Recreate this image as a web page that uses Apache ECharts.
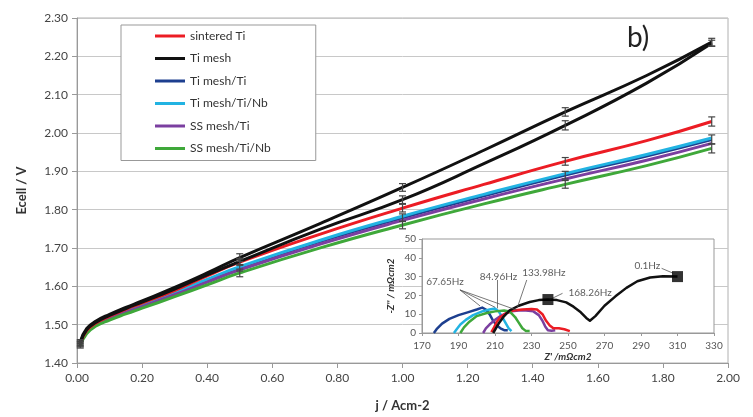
<!DOCTYPE html>
<html>
<head>
<meta charset="utf-8">
<script src="https://cdn.jsdelivr.net/npm/echarts@6/dist/echarts.min.js"></script>
<style>
  html, body { margin: 0; padding: 0; background: #fff; }
  #main { width: 753px; height: 417px; }
</style>
</head>
<body>
<div id="main"></div>
<script>
// current density points (A cm-2)
var jVals = [0.01, 0.03, 0.06, 0.1, 0.15, 0.2, 0.3, 0.4, 0.5, 0.75, 1.0, 1.25, 1.5, 1.75, 1.95];

var sinteredTi = [1.450, 1.485, 1.505, 1.522, 1.540, 1.556, 1.589, 1.627, 1.663, 1.737, 1.804, 1.866, 1.926, 1.980, 2.030];
var tiMesh     = [1.455, 1.490, 1.510, 1.527, 1.545, 1.562, 1.597, 1.635, 1.675, 1.765, 1.858, 1.955, 2.055, 2.150, 2.237];
var tiMesh2    = [1.452, 1.487, 1.507, 1.524, 1.542, 1.559, 1.593, 1.630, 1.665, 1.750, 1.826, 1.920, 2.020, 2.130, 2.234];
var tiMeshTi   = [1.448, 1.482, 1.502, 1.518, 1.535, 1.550, 1.582, 1.616, 1.648, 1.718, 1.779, 1.836, 1.890, 1.940, 1.983];
var tiMeshTiNb = [1.450, 1.484, 1.504, 1.520, 1.537, 1.552, 1.584, 1.618, 1.651, 1.721, 1.783, 1.840, 1.894, 1.944, 1.987];
var ssMeshTi   = [1.447, 1.480, 1.500, 1.516, 1.532, 1.547, 1.578, 1.611, 1.643, 1.711, 1.772, 1.828, 1.880, 1.929, 1.973];
var ssMeshTiNb = [1.445, 1.477, 1.497, 1.512, 1.528, 1.543, 1.573, 1.604, 1.635, 1.701, 1.760, 1.815, 1.866, 1.915, 1.960];

// error bars (half width, V) at these current densities
var errJ = [0.01, 0.5, 1.0, 1.5, 1.95];
var errSintered = [0.006, 0.008, 0.010, 0.010, 0.012];
var errTiMesh   = [0.006, 0.010, 0.010, 0.011, 0.010];
var errTiMesh2  = [0.006, 0.008, 0.010, 0.012, 0.008];
var errTiMeshTi = [0.006, 0.008, 0.010, 0.010, 0.012];
var errSSTiNb   = [0.006, 0.010, 0.010, 0.010, 0.012];

// inset EIS (Z' , -Z'') in mOhm cm2
var eisSintered = [[208,0.5],[209.5,3],[211,6],[213,8.5],[216,10.5],[220,12],[225,12.5],[230,12.8],[233,12.5],[236,10],[238,6.5],[240,4],[242,2.5],[245,2.5],[248,2],[251,1]];
var eisTiMesh = [[209,0],[212,5],[215,9],[218,12],[223,14.5],[229,16.5],[234,17.5],[239,17.8],[244,17.5],[249,16.3],[253,14],[257,11],[260,8],[262,6.5],[265,9],[270,14.5],[276,19.5],[282,24],[288,27.5],[295,29.5],[302,30.2],[310,30]];
var eisTiMeshTi = [[176.5,0],[178,2],[181,5],[185,7.5],[190,9.5],[195,11],[200,12.5],[203,13.5],[205,12.5],[207,10],[209,6.5],[211,4],[213,2.5],[215,1.5],[217,1.5]];
var eisTiMeshTiNb = [[187.5,0],[189,2],[191,4.5],[194,7],[198,9.5],[203,11.5],[207,12.5],[210,13],[212,11.5],[214,8.5],[216,5],[217.5,2.5],[219,1]];
var eisSSTi = [[203.5,0],[205,2.5],[207,4.5],[210,7],[213,9],[216,10.5],[219,11.5],[223,12],[227,12],[231,11.5],[234,9.5],[236,6.5],[237.5,3.5],[239,1.5],[241,1.2],[243,1.5]];
var eisSSTiNb = [[191,0],[193,3],[196,6],[200,9],[205,10.5],[210,11.5],[215,12],[218,11.5],[221,8.5],[223,5.5],[225,2.5],[227,1],[229,1]];
var eisSquares = [[239,17.8],[310,30]];

var freqLabels = [
  {name: '67.65Hz', value: [182.6, 27.1]},
  {name: '84.96Hz', value: [211.9, 29.8]},
  {name: '133.98Hz', value: [236.8, 31.9]},
  {name: '168.26Hz', value: [247.5, 21.5], label: {position: 'right'}},
  {name: '0.1Hz', value: [293.5, 36]}
];
var leaderLines = [
  [[190.8,22.9],[201.8,14.4]],
  [[190.8,22.9],[210,13.7]],
  [[190.8,22.9],[221.9,12.2]],
  [[211.3,28.2],[211.3,13.1]],
  [[227.4,28.2],[222.3,13.7]],
  [[240,17.8],[247,21.1]],
  [[301.3,34.4],[307.6,31.8]]
];

var FONT = 'Lato';
var myChart = echarts.init(document.getElementById('main'));

function pairs(vals) {
  return jVals.map(function (j, i) { return [j, vals[i]]; });
}
function errData(vals, errs) {
  return errJ.map(function (j, i) {
    var c = vals[jVals.indexOf(j)];
    return [j, c - errs[i], c + errs[i]];
  });
}

var errAll = []
  .concat(errData(sinteredTi, errSintered))
  .concat(errData(tiMesh, errTiMesh))
  .concat(errData(tiMesh2, errTiMesh2))
  .concat(errData(tiMeshTi, errTiMeshTi))
  .concat(errData(ssMeshTiNb, errSSTiNb));

function mainLine(name, vals, color) {
  return {
    name: name, type: 'line', xAxisIndex: 0, yAxisIndex: 0,
    data: pairs(vals), symbol: 'none', smooth: true,
    lineStyle: {color: color, width: 3}, itemStyle: {color: color}, z: 2
  };
}
function eisLine(name, pts, color) {
  return {
    name: name, type: 'line', xAxisIndex: 1, yAxisIndex: 1,
    data: pts, symbol: 'none', smooth: false,
    lineStyle: {color: color, width: 2.5, join: 'round'}, itemStyle: {color: color}, z: 8
  };
}

var colors = {
  red: '#ec1c24', black: '#111111', blue: '#1d3f8f',
  cyan: '#22b3e2', purple: '#7b3fa0', green: '#3fa83a'
};

option = {
  animation: false,
  backgroundColor: '#fff',
  textStyle: {fontFamily: FONT},
  legend: {
    orient: 'vertical',
    left: 121, top: 25,
    padding: [4, 45, 5, 34],
    itemGap: 8.5,
    itemWidth: 30, itemHeight: 3,
    icon: 'rect',
    backgroundColor: '#fff',
    borderColor: '#999', borderWidth: 1,
    textStyle: {fontFamily: FONT, fontSize: 12, color: '#333', lineHeight: 14},
    data: ['sintered Ti', 'Ti mesh', 'Ti mesh/Ti', 'Ti mesh/Ti/Nb', 'SS mesh/Ti', 'SS mesh/Ti/Nb'],
    z: 20
  },
  graphic: [{
    type: 'text', left: 627, top: 24,
    style: {text: 'b)', font: '28px ' + FONT, fill: '#222'}
  }],
  grid: [
    {left: 77, top: 18, width: 651, height: 345, show: true, borderColor: '#b0b0b0', borderWidth: 1},
    {left: 422, top: 239, width: 292, height: 94, show: true, backgroundColor: '#fff', borderColor: '#999', borderWidth: 1, z: 5}
  ],
  xAxis: [{
    gridIndex: 0, type: 'value', min: 0, max: 2, interval: 0.2,
    name: 'j / Acm-2', nameLocation: 'middle', nameGap: 36,
    nameTextStyle: {fontFamily: FONT, fontSize: 13, fontWeight: 'bold', color: '#333'},
    axisLine: {lineStyle: {color: '#999'}},
    axisTick: {show: true, length: 5, lineStyle: {color: '#999'}},
    axisLabel: {fontFamily: FONT, fontSize: 12, color: '#444', margin: 9,
      formatter: function (v) { return v.toFixed(2); }},
    splitLine: {show: false}
  }, {
    gridIndex: 1, type: 'value', min: 170, max: 330, interval: 20,
    name: "Z' /mΩcm2", nameLocation: 'middle', nameGap: 17,
    nameTextStyle: {fontFamily: FONT, fontSize: 10, fontWeight: 'bold', fontStyle: 'italic', color: '#333'},
    axisLine: {lineStyle: {color: '#999'}},
    axisTick: {show: true, length: 3, lineStyle: {color: '#999'}},
    axisLabel: {fontFamily: FONT, fontSize: 10, color: '#555', margin: 8},
    splitLine: {show: false}, z: 6
  }],
  yAxis: [{
    gridIndex: 0, type: 'value', min: 1.4, max: 2.3, interval: 0.1,
    name: 'Ecell / V', nameLocation: 'middle', nameGap: 49,
    nameTextStyle: {fontFamily: FONT, fontSize: 13, fontWeight: 'bold', color: '#333'},
    axisLine: {show: true, lineStyle: {color: '#999'}},
    axisTick: {show: true, length: 5, lineStyle: {color: '#999'}},
    axisLabel: {fontFamily: FONT, fontSize: 12, color: '#444', margin: 9,
      formatter: function (v) { return v.toFixed(2); }},
    splitLine: {lineStyle: {color: '#c8c8c8'}}
  }, {
    gridIndex: 1, type: 'value', min: 0, max: 50, interval: 10,
    name: "-Z'' / mΩcm2", nameLocation: 'middle', nameGap: 26,
    nameTextStyle: {fontFamily: FONT, fontSize: 10, fontWeight: 'bold', fontStyle: 'italic', color: '#333'},
    axisLine: {show: true, lineStyle: {color: '#999'}},
    axisTick: {show: true, length: 3, lineStyle: {color: '#999'}},
    axisLabel: {fontFamily: FONT, fontSize: 10, color: '#555', margin: 6},
    splitLine: {show: false}, z: 6
  }],
  series: [
    mainLine('Ti mesh/Ti', tiMeshTi, colors.blue),
    mainLine('Ti mesh/Ti/Nb', tiMeshTiNb, colors.cyan),
    mainLine('SS mesh/Ti', ssMeshTi, colors.purple),
    mainLine('SS mesh/Ti/Nb', ssMeshTiNb, colors.green),
    mainLine('sintered Ti', sinteredTi, colors.red),
    mainLine('Ti mesh', tiMesh, colors.black),
    mainLine('Ti mesh', tiMesh2, colors.black),
    {
      name: 'err', type: 'custom', xAxisIndex: 0, yAxisIndex: 0, z: 3,
      data: errAll,
      renderItem: function (params, api) {
        var lo = api.coord([api.value(0), api.value(1)]);
        var hi = api.coord([api.value(0), api.value(2)]);
        var st = {stroke: '#444', lineWidth: 1.2};
        return {type: 'group', children: [
          {type: 'line', shape: {x1: lo[0], y1: lo[1], x2: hi[0], y2: hi[1]}, style: st},
          {type: 'line', shape: {x1: lo[0] - 3.5, y1: lo[1], x2: lo[0] + 3.5, y2: lo[1]}, style: st},
          {type: 'line', shape: {x1: hi[0] - 3.5, y1: hi[1], x2: hi[0] + 3.5, y2: hi[1]}, style: st}
        ]};
      }
    },
    eisLine('Ti mesh/Ti', eisTiMeshTi, colors.blue),
    eisLine('Ti mesh/Ti/Nb', eisTiMeshTiNb, colors.cyan),
    eisLine('SS mesh/Ti', eisSSTi, colors.purple),
    eisLine('sintered Ti', eisSintered, colors.red),
    eisLine('SS mesh/Ti/Nb', eisSSTiNb, colors.green),
    eisLine('Ti mesh', eisTiMesh, colors.black),
    {
      name: 'Ti mesh', type: 'scatter', xAxisIndex: 1, yAxisIndex: 1, z: 9,
      data: eisSquares, symbol: 'rect', symbolSize: 11, itemStyle: {color: '#000'}
    },
    {
      name: 'leaders', type: 'lines', coordinateSystem: 'cartesian2d', xAxisIndex: 1, yAxisIndex: 1, z: 9,
      data: leaderLines.map(function (c) { return {coords: c}; }),
      lineStyle: {color: '#555', width: 0.8, opacity: 1}
    },
    {
      name: 'freq', type: 'scatter', xAxisIndex: 1, yAxisIndex: 1, z: 10,
      data: freqLabels, symbolSize: 0,
      label: {show: true, position: 'inside', formatter: '{b}', fontFamily: FONT, fontSize: 10, color: '#333'}
    }
  ]
};

myChart.setOption(option);
</script>
</body>
</html>
